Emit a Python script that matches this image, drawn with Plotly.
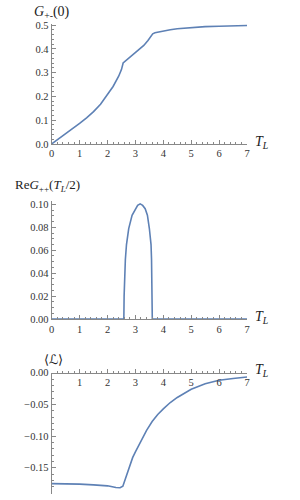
import plotly.graph_objects as go

# Panel 1: G_{+-}(0) vs T_L
t_g = [0, 0.25, 0.5, 0.75, 1.0, 1.25, 1.5, 1.75, 2.0, 2.2, 2.4, 2.5, 2.56,
       2.7, 2.85, 3.0, 3.15, 3.3, 3.45, 3.55, 3.62, 3.7, 3.85, 4.0, 4.25,
       4.5, 5.0, 5.5, 6.0, 6.5, 7.0]
g_pm = [0.0, 0.021, 0.043, 0.064, 0.086, 0.110, 0.136, 0.167, 0.207, 0.242,
        0.285, 0.313, 0.341, 0.355, 0.369, 0.383, 0.398, 0.415, 0.436, 0.452,
        0.464, 0.468, 0.472, 0.476, 0.481, 0.485, 0.490, 0.494, 0.496, 0.498, 0.499]

# Panel 2: Re G_{++}(T_L/2) vs T_L
t_re = [0, 2.585, 2.595, 2.61, 2.64, 2.68, 2.76, 2.88, 3.0, 3.08, 3.17,
        3.26, 3.35, 3.43, 3.5, 3.56, 3.578, 3.59, 3.6, 3.605, 7.0]
re_gpp = [0, 0.0, 0.02, 0.037, 0.052, 0.065, 0.079, 0.0906, 0.0963, 0.0992, 0.1005,
          0.0992, 0.0963, 0.0906, 0.079, 0.065, 0.052, 0.037, 0.02, 0.0, 0]

# Panel 3: <L> vs T_L
t_l = [0, 0.5, 1.0, 1.5, 2.0, 2.3, 2.45, 2.55, 2.62, 2.7, 2.8, 2.9, 3.0,
       3.2, 3.4, 3.6, 3.8, 4.0, 4.25, 4.5, 5.0, 5.5, 6.0, 6.5, 7.0]
lag = [-0.175, -0.1752, -0.1758, -0.177, -0.1785, -0.1812, -0.1815, -0.179,
       -0.170, -0.158, -0.145, -0.134, -0.125, -0.107, -0.091, -0.077, -0.066,
       -0.057, -0.047, -0.039, -0.026, -0.0175, -0.012, -0.009, -0.0067]

x_ticks = [0, 1, 2, 3, 4, 5, 6, 7]
x_ticktext_top = ["0", "1", "2", "3", "4", "5", "6", "7"]
x_ticktext_bot = ["", "1", "2", "3", "4", "5", "6", "7"]

LINE = "rgb(94,129,181)"
AX = "#888888"
TXT = "#333333"
FONT = "Liberation Serif"

fig = go.Figure()
fig.add_trace(go.Scatter(x=t_g, y=g_pm, mode="lines", xaxis="x", yaxis="y",
                         line=dict(color=LINE, width=1.6)))
fig.add_trace(go.Scatter(x=t_re, y=re_gpp, mode="lines", xaxis="x2", yaxis="y2",
                         line=dict(color=LINE, width=1.6)))
fig.add_trace(go.Scatter(x=t_l, y=lag, mode="lines", xaxis="x3", yaxis="y3",
                         line=dict(color=LINE, width=1.6)))

xd = [49.7 / 300, 249 / 300]
Y3TOP = (500 - 376) / 500

def xax(anchor, labels, **kw):
    d = dict(domain=xd, range=[0, 7], anchor=anchor, side="bottom",
             tickmode="array", tickvals=x_ticks, ticktext=labels,
             ticks="inside", ticklen=4, tickcolor=AX,
             minor=dict(tickmode="linear", tick0=0, dtick=0.2, ticks="inside",
                        ticklen=2, tickcolor=AX),
             showline=True, linecolor=AX, linewidth=1,
             showgrid=False, zeroline=False,
             tickfont=dict(family=FONT, size=10.5, color=TXT), fixedrange=True)
    d.update(kw)
    return d

def yax(anchor, dom, rng, dtick, minor, fmt):
    return dict(domain=dom, range=rng, anchor=anchor,
                tickmode="linear", tick0=0, dtick=dtick, tickformat=fmt,
                ticks="inside", ticklen=4, tickcolor=AX,
                minor=dict(tickmode="linear", tick0=0, dtick=minor, ticks="inside",
                           ticklen=2, tickcolor=AX),
                showline=True, linecolor=AX, linewidth=1,
                showgrid=False, zeroline=False,
                tickfont=dict(family=FONT, size=10.5, color=TXT), fixedrange=True)

fig.update_layout(
    width=300, height=500, margin=dict(l=0, r=0, t=0, b=0),
    font=dict(family=FONT, size=10.5, color=TXT),
    paper_bgcolor="white", plot_bgcolor="white", showlegend=False,
    xaxis=xax("y", x_ticktext_top),
    yaxis=yax("x", [(500 - 142) / 500, (500 - 19) / 500], [0, 0.507], 0.1, 0.02, ".1f"),
    xaxis2=xax("y2", x_ticktext_top),
    yaxis2=yax("x2", [(500 - 321) / 500, (500 - 200) / 500], [0, 0.1034], 0.02, 0.005, ".2f"),
    xaxis3=xax("free", x_ticktext_bot, position=Y3TOP),
    yaxis3=yax("x3", [0, Y3TOP], [-0.1914, 0], 0.05, 0.01, ".2f"),
)

def ann(text, px, py, size=13, xanchor="left"):
    fig.add_annotation(text=text, x=px / 300, y=1 - py / 500, xref="paper", yref="paper",
                       showarrow=False, xanchor=xanchor, yanchor="middle",
                       font=dict(family=FONT, size=size, color="#222222"))

ann("<i>G</i><sub>+-</sub>(0)", 30, 8, size=14)
ann("<i>T</i><sub><i>L</i></sub>", 255, 141, size=14)
ann("Re<i>G</i><sub>++</sub>(<i>T</i><sub><i>L</i></sub>/2)", 10, 185, size=13)
ann("<i>T</i><sub><i>L</i></sub>", 255, 320, size=14)
ann("⟨ℒ⟩", 40, 362, size=13)
ann("<i>T</i><sub><i>L</i></sub>", 255, 374, size=14)

fig.write_html("out.html", config={"displayModeBar": False},
               post_script="document.body.style.margin='0';")
